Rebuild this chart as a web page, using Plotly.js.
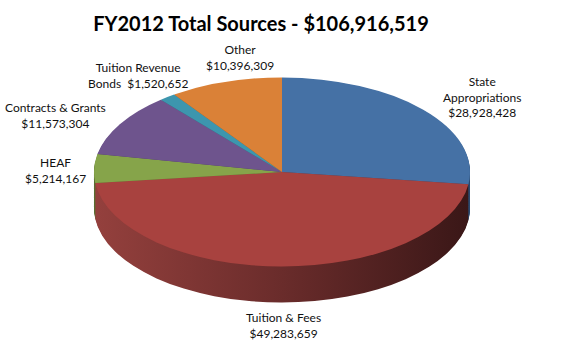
<!DOCTYPE html>
<html>
<head>
<meta charset="utf-8">
<script src="https://cdn.plot.ly/plotly-3.0.1.min.js"></script>
<style>
  html, body { margin: 0; padding: 0; background: #fff; }
  #chart { width: 564px; height: 351px; }
  /* flatten the circular pie into an ellipse (3D look) */
  #chart .pielayer {
    transform-box: view-box;
    transform-origin: 0 0;
    transform: translate(282px, 172px) scale(1.504, 0.756) translate(-282px, -140px);
  }
  #chart .pielayer .trace:not(:last-of-type) .slice:nth-of-type(2) path.surface {
    fill: url(#sideRed) !important;
  }
</style>
</head>
<body>
<svg width="0" height="0" style="position:absolute">
  <defs>
    <linearGradient id="sideRed" x1="0" y1="0" x2="1" y2="0">
      <stop offset="0" stop-color="#94403d"/>
      <stop offset="0.5" stop-color="#6a2c2b"/>
      <stop offset="1" stop-color="#3a1717"/>
    </linearGradient>
  </defs>
</svg>
<div id="chart"></div>
<script>
// ---- data ----
var categories = ["State Appropriations", "Tuition & Fees", "HEAF", "Contracts & Grants", "Tuition Revenue Bonds", "Other"];
var values = [28928428, 49283659, 5214167, 11573304, 1520652, 10396309];
var labelText = ["State<br>Appropriations", "Tuition & Fees", "HEAF", "Contracts & Grants", "Tuition Revenue<br>Bonds ", "Other"];
var labelBreak = ["<br>", "<br>", "<br>", "<br>", " ", "<br>"];
var titleText = "FY2012 Total Sources - $106,916,519";

// ---- styles ----
var topColors = ["#4571a5", "#a8423f", "#86a44a", "#6e548d", "#3d96ae", "#da8137"];
var sideColors = ["#2c4a6e", "#6a2c2b", "#5a7032", "#4a3860", "#2a6676", "#935624"];
// label positions (pixels)
var labelPos = [[482, 97], [283, 325], [55, 170], [55, 116], [138, 75], [240, 58]];

var W = 564, H = 351;
var D = 250, cx = 282, cy = 140;
var sy = 189 / D;
var depthPre = 36 / sy;
var nLayers = 40;

function fmt(v) { return "$" + v.toLocaleString("en-US"); }

function pieTrace(shift, colors) {
  return {
    type: "pie",
    values: values,
    labels: categories,
    sort: false,
    direction: "clockwise",
    rotation: 0,
    textinfo: "none",
    hoverinfo: "skip",
    showlegend: false,
    marker: { colors: colors, line: { width: 0 } },
    domain: {
      x: [(cx - D / 2) / W, (cx + D / 2) / W],
      y: [(H - cy - shift - D / 2) / H, (H - cy - shift + D / 2) / H]
    }
  };
}

var data = [];
for (var i = nLayers; i >= 1; i--) {
  data.push(pieTrace(depthPre * i / nLayers, sideColors));
}
data.push(pieTrace(0, topColors));

var annotations = categories.map(function (c, i) {
  return {
    xref: "paper", yref: "paper",
    x: labelPos[i][0] / W, y: 1 - labelPos[i][1] / H,
    xanchor: "center", yanchor: "middle",
    showarrow: false,
    text: labelText[i] + labelBreak[i] + fmt(values[i]),
    font: { family: "Lato, 'Open Sans', sans-serif", size: 12, color: "#111" },
    align: "center"
  };
});

var layout = {
  width: W, height: H,
  margin: { l: 0, r: 0, t: 0, b: 0 },
  paper_bgcolor: "#fff",
  title: {
    text: "<b>" + titleText + "</b>",
    x: 261 / W, xanchor: "center",
    y: 1 - 24 / H, yanchor: "middle",
    font: { family: "Lato, 'Open Sans', sans-serif", size: 20, color: "#000" }
  },
  annotations: annotations
};

Plotly.newPlot("chart", data, layout, { staticPlot: true, displayModeBar: false });
</script>
</body>
</html>
